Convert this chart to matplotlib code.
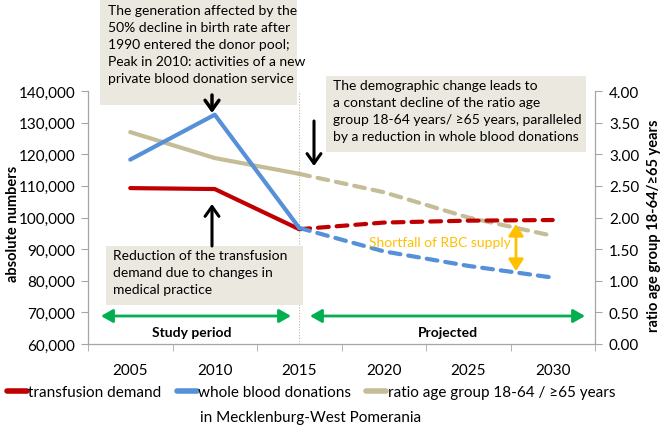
import matplotlib
matplotlib.use("Agg")
import matplotlib.pyplot as plt
from matplotlib.lines import Line2D
from matplotlib.patches import Rectangle, FancyArrowPatch

plt.rcParams['font.family'] = ['Lato', 'DejaVu Sans']

years = ['2005', '2010', '2015', '2020', '2025', '2030']
transfusion_demand = [109300, 109000, 96300, 98400, 99000, 99200]
whole_blood_donations = [118300, 132500, 96700, 89300, 84700, 81000]
ratio_18_64_to_65 = [3.35, 2.94, 2.69, 2.40, 2.00, 1.71]
left_ticks = [60000, 70000, 80000, 90000, 100000, 110000, 120000, 130000, 140000]
right_ticks = [0, 0.5, 1.0, 1.5, 2.0, 2.5, 3.0, 3.5, 4.0]
last_observed = 2  # index of 2015

RED = '#C00000'
BLUE = '#5590D8'
TAN = '#C4BD97'
BOXC = '#EBE9DF'
GREEN = '#00B050'
ORANGE = '#FFC000'
AXC = '#A6A6A6'

W, H = 665, 427
fig = plt.figure(figsize=(W / 100, H / 100), dpi=100)


def fx(x):
    return x / W


def fy(y):
    return 1 - y / H


ax_w = fx(595) - fx(88)
ax = fig.add_axes([fx(88), fy(345), ax_w, fy(92) - fy(345)])
ax2 = ax.twinx()

xs = list(range(len(years)))
obs = slice(0, last_observed + 1)
proj = slice(last_observed, len(years))
lw = 3.0
dash = dict(linestyle=(0, (2.6, 1.9)), dash_capstyle='round')

ax2.plot(xs[obs], ratio_18_64_to_65[obs], color=TAN, lw=lw, solid_capstyle='round', zorder=2)
ax2.plot(xs[proj], ratio_18_64_to_65[proj], color=TAN, lw=lw, **dash, zorder=2)

ax.set_zorder(ax2.get_zorder() + 1)
ax.patch.set_visible(False)
ax.plot(xs[obs], transfusion_demand[obs], color=RED, lw=lw, solid_capstyle='round')
ax.plot(xs[proj], transfusion_demand[proj], color=RED, lw=lw, **dash)
ax.plot(xs[obs], whole_blood_donations[obs], color=BLUE, lw=lw, solid_capstyle='round')
ax.plot(xs[proj], whole_blood_donations[proj], color=BLUE, lw=lw, **dash)

ax.axvline(last_observed, color='#BDB79A', lw=0.8, linestyle=(0, (1, 1.5)), zorder=0)

ax.set_xlim(-0.5, len(years) - 0.5)
ax.set_ylim(60000, 140000)
ax2.set_ylim(0, 4)
ax.set_xticks(xs)
ax.set_xticklabels(years)
ax.set_xticks([i - 0.5 for i in range(len(years) + 1)], minor=True)
ax.tick_params(axis='x', which='major', length=0, pad=14, labelsize=11)
ax.tick_params(axis='x', which='minor', length=5, color=AXC, direction='out')
ax.set_yticks(left_ticks)
ax.set_yticklabels([f'{v:,}' for v in left_ticks])
ax.tick_params(axis='y', length=5, color=AXC, labelsize=11, pad=4)
ax2.set_yticks(right_ticks)
ax2.set_yticklabels([f'{v:.2f}' for v in right_ticks])
ax2.tick_params(axis='y', length=5, color=AXC, labelsize=11, pad=5)

for a in (ax, ax2):
    for s in a.spines.values():
        s.set_color(AXC)
        s.set_linewidth(0.9)
    a.spines['top'].set_visible(False)
ax.spines['right'].set_visible(False)
ax2.spines['left'].set_visible(False)
ax2.spines['bottom'].set_visible(False)

ax.set_ylabel('absolute numbers', fontsize=10.5, fontweight='bold', va='center', ha='center')
ax.yaxis.set_label_coords((13 - 88) / (595 - 88), 0.48)
ax2.set_ylabel('ratio age group 18-64/≥65 years', fontsize=10.5, fontweight='bold',
               va='center', ha='center', rotation=90)
ax2.yaxis.set_label_coords((654 - 88) / (595 - 88), 0.47)


def box(x0, y0, x1, y1, text, tx, ty):
    fig.add_artist(Rectangle((fx(x0), fy(y1)), fx(x1) - fx(x0), fy(y0) - fy(y1),
                             transform=fig.transFigure, facecolor=BOXC, edgecolor='none', zorder=3))
    fig.text(fx(tx), fy(ty), text, ha='left', va='top', fontsize=10, linespacing=1.5, zorder=4)


box(100, 0, 297, 106,
    'The generation affected by the\n50% decline in birth rate after\n1990 entered the donor pool;\n'
    'Peak in 2010: activities of a new\nprivate blood donation service', 108, 5)
box(326, 77, 586, 153,
    'The demographic change leads to\na constant decline of the ratio age\n'
    'group 18-64 years/ ≥65 years, paralleled\nby a reduction in whole blood donations', 333, 80)
box(106, 247, 303, 306,
    'Reduction of the transfusion\ndemand due to changes in\nmedical practice', 113, 250)


def arrow(x0, y0, x1, y1, color, style, lw_, z=5):
    fig.add_artist(FancyArrowPatch(
        (fx(x0), fy(y0)), (fx(x1), fy(y1)), transform=fig.transFigure,
        arrowstyle=style, color=color, lw=lw_, mutation_scale=10, zorder=z,
        shrinkA=0, shrinkB=0))


arrow(212, 96, 212, 114, 'black', '->,head_length=0.7,head_width=0.5', 2.5)
arrow(314, 122, 314, 167, 'black', '->,head_length=0.7,head_width=0.5', 2.2)
arrow(212, 247, 212, 205, 'black', '->,head_length=0.7,head_width=0.5', 2.2)
arrow(516, 225, 516, 272, ORANGE, '<|-|>,head_length=0.7,head_width=0.45', 2.0)
arrow(101, 317, 291, 317, GREEN, '<|-|>,head_length=0.7,head_width=0.4', 2.0)
arrow(310, 317, 585, 317, GREEN, '<|-|>,head_length=0.7,head_width=0.4', 2.0)

fig.text(fx(192), fy(333), 'Study period', ha='center', va='center', fontsize=10, fontweight='bold')
fig.text(fx(448), fy(333), 'Projected', ha='center', va='center', fontsize=10, fontweight='bold')
fig.text(fx(511), fy(243), 'Shortfall of RBC supply', ha='right', va='center', fontsize=10, color=ORANGE)

handles = [Line2D([], [], color=RED, lw=4, solid_capstyle='round'),
           Line2D([], [], color=BLUE, lw=4, solid_capstyle='round'),
           Line2D([], [], color=TAN, lw=4, solid_capstyle='round')]
labels = ['transfusion demand', 'whole blood donations', 'ratio age group 18-64 / ≥65 years']
fig.legend(handles, labels, loc='center', bbox_to_anchor=(fx(311), fy(393)), ncol=3,
           frameon=False, fontsize=11, handlelength=1.3, handletextpad=0.1,
           columnspacing=1.0, borderpad=0)
fig.text(fx(311), fy(418), 'in Mecklenburg-West Pomerania', ha='center', va='center', fontsize=11)

fig.savefig('out.png', dpi=100)
